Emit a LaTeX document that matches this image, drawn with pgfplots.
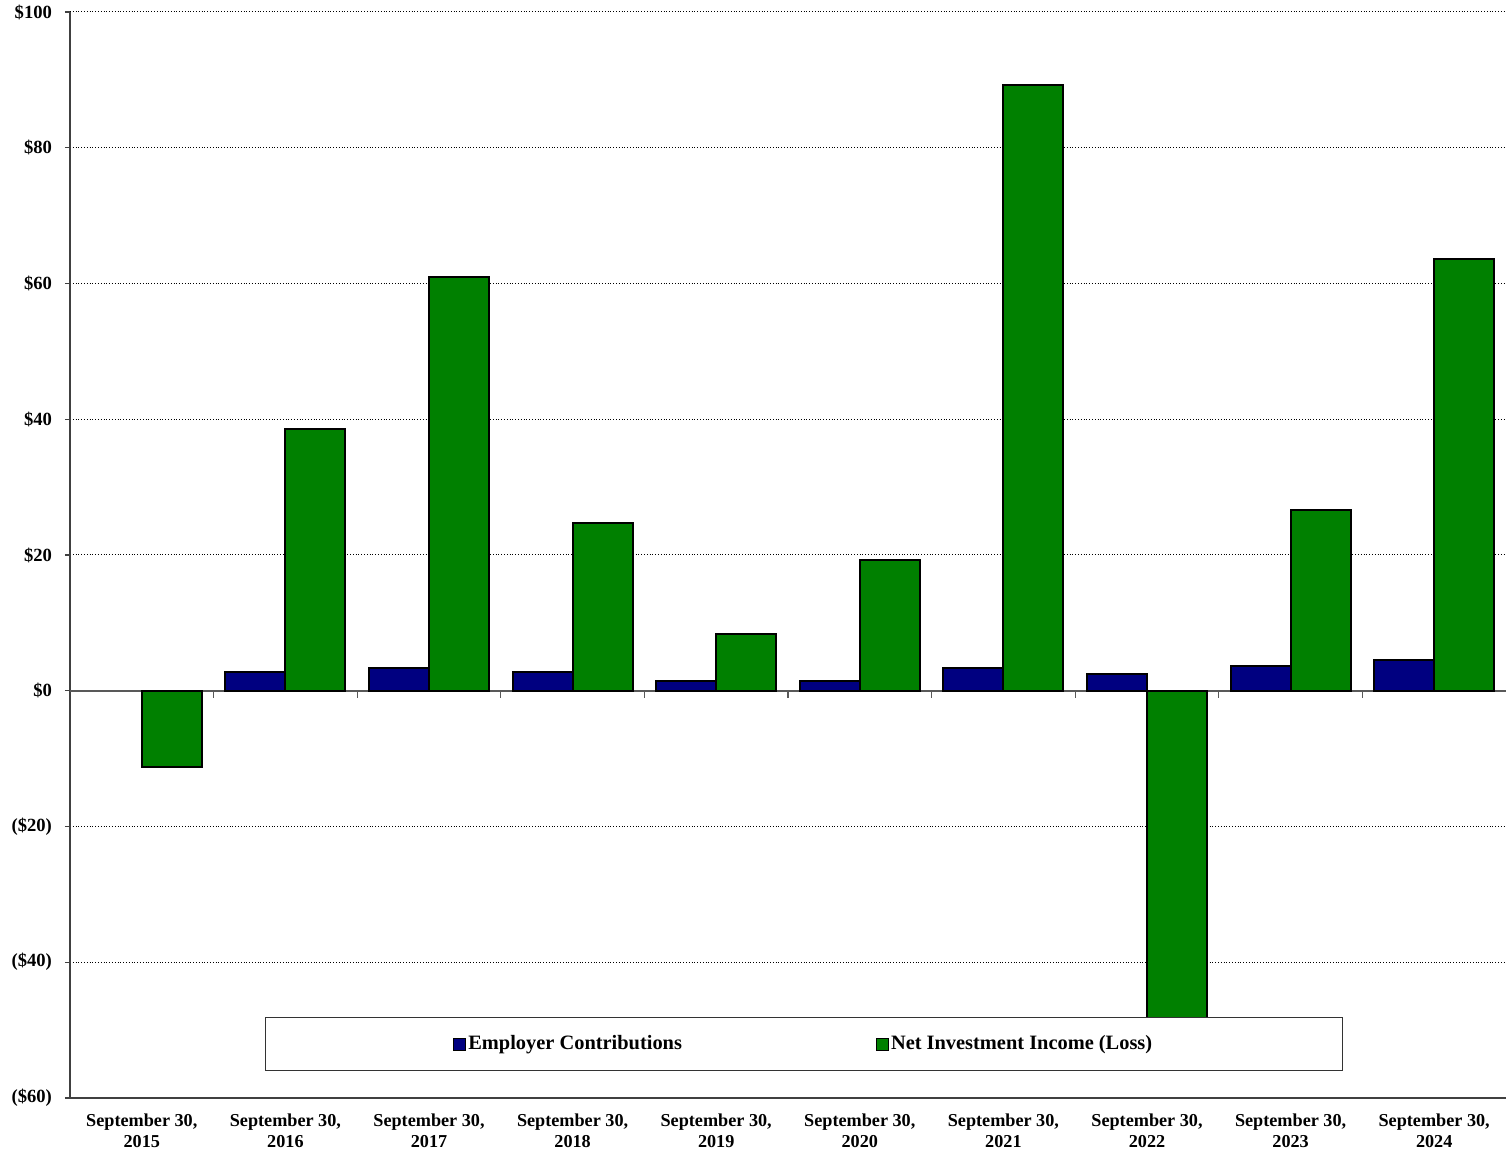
\documentclass[border=0pt]{standalone}
\usepackage{pgfplots}
\pgfplotsset{compat=1.18}
\usepackage{fontspec}
\setmainfont{Liberation Serif}
\definecolor{navyc}{RGB}{0,0,128}
\definecolor{greenc}{RGB}{0,128,0}
\begin{document}
\begin{tikzpicture}
\begin{axis}[
  scale only axis,
  width=718pt, height=543pt,
  xmin=-0.5, xmax=9.5, ymin=-60, ymax=100,
  ybar=0pt, bar width=0.418,
  axis lines*=left,
  axis line style={black!75, line width=0.9pt},
  ytick={-60,-40,-20,0,20,40,60,80,100},
  yticklabels={(\$60),(\$40),(\$20),\$0,\$20,\$40,\$60,\$80,\$100},
  ymajorgrids, grid style={black, densely dotted, line width=0.5pt},
  ytick style={black!75, line width=0.6pt},
  tick align=outside, major tick length=2.5pt,
  xtick={0,...,9},
  xtick style={draw=none},
  xticklabels={{September 30,\\2015},{September 30,\\2016},{September 30,\\2017},{September 30,\\2018},{September 30,\\2019},{September 30,\\2020},{September 30,\\2021},{September 30,\\2022},{September 30,\\2023},{September 30,\\2024}},
  xticklabel style={align=center, font=\bfseries\fontsize{9.1}{10.5}\selectfont, yshift=-2pt},
  yticklabel style={font=\bfseries\fontsize{9.3}{11}\selectfont, xshift=-3pt},
  legend columns=2,
  legend style={at={(axis cs:4.61,-52.05)}, anchor=center, draw=black!80, line width=0.5pt,
    fill=white, inner xsep=94pt, inner ysep=7pt,
    font=\bfseries\fontsize{10.2}{12}\selectfont,
    nodes={inner xsep=1pt},
    /tikz/every even column/.append style={column sep=96pt}},
  legend image code/.code={\draw[#1,line width=0.5pt] (0pt,-3pt) rectangle (6pt,3pt);},
]
\draw[black!65, line width=0.9pt] (axis cs:-0.5,0) -- (axis cs:9.5,0);
\pgfplotsinvokeforeach{0.5,1.5,2.5,3.5,4.5,5.5,6.5,7.5,8.5}{\draw[black!65, line width=0.6pt] (axis cs:#1,0) -- ([yshift=-3.5pt]axis cs:#1,0);}
\addplot[fill=navyc, draw=black, line width=1pt] coordinates {
 (1,2.8) (2,3.4) (3,2.8) (4,1.4) (5,1.4) (6,3.4) (7,2.4) (8,3.6) (9,4.5)};
\addplot[fill=greenc, draw=black, line width=1pt] coordinates {
 (0,-11.2) (1,38.6) (2,61.0) (3,24.75) (4,8.4) (5,19.3) (6,89.3) (7,-52) (8,26.7) (9,63.6)};
\legend{Employer Contributions,Net Investment Income (Loss)}
\end{axis}
\pgfresetboundingbox
\path ([xshift=-35pt,yshift=-27.5pt]current axis.south west) rectangle ([yshift=6pt]current axis.north east);
\end{tikzpicture}
\end{document}
